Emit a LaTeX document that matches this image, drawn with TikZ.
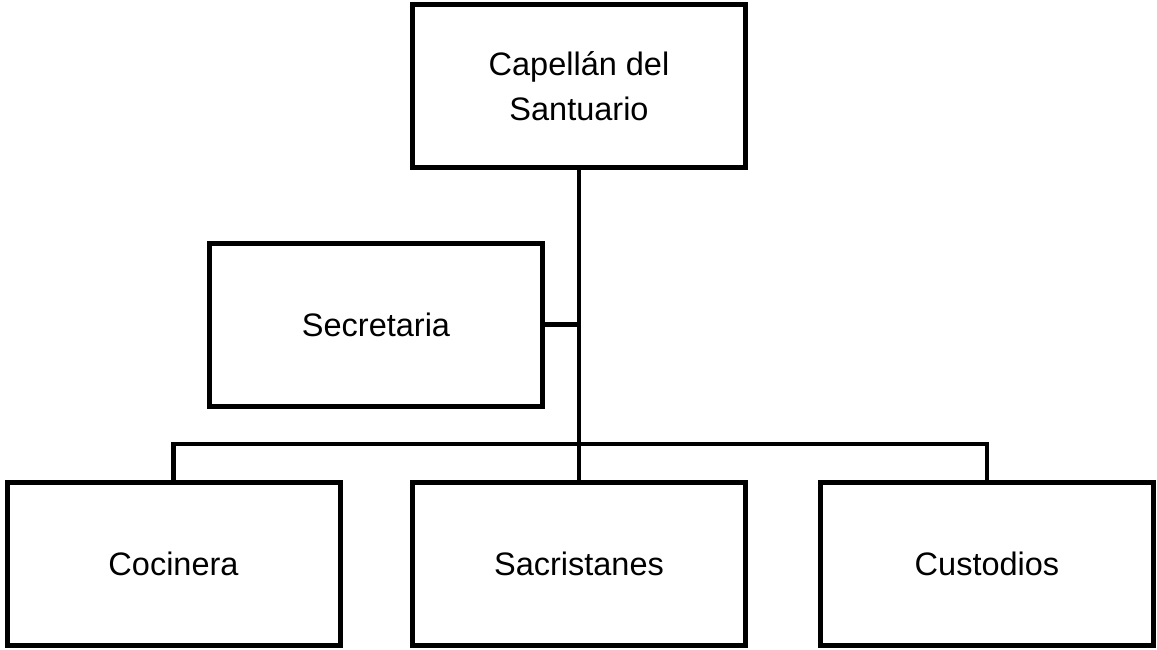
\documentclass[tikz,border=0pt]{standalone}
\usepackage{fontspec}
\setmainfont{Liberation Sans}
\usetikzlibrary{positioning}

\tikzset{
	puesto/.style={draw, line width=5pt, minimum width=333pt, minimum height=163pt, align=center, inner sep=0pt, font=\fontsize{32.5}{45}\selectfont},
	rama/.style={line width=4.5pt}
}

\begin{document}
\begin{tikzpicture}[x=1pt,y=-1pt]
	\useasboundingbox (0,0) rectangle (1157,650);
	\node[puesto] (v1) at (579,86) {Capellán del\\Santuario};
	\node[puesto] (v2) at (376,324.5) {Secretaria};
	\node[puesto] (v3) at (173.5,563.5) {Cocinera};
	\node[puesto] (v4) at (579,563.5) {Sacristanes};
	\node[puesto] (v5) at (987,563.5) {Custodios};
	\coordinate (j1) at (579,444);
	\draw [rama] (v1) -- (v4);
	\draw [rama] (v2) -- (v2 -| v1);
	\draw [rama] (v3) |- (j1) -| (v5);
\end{tikzpicture}
\end{document}
